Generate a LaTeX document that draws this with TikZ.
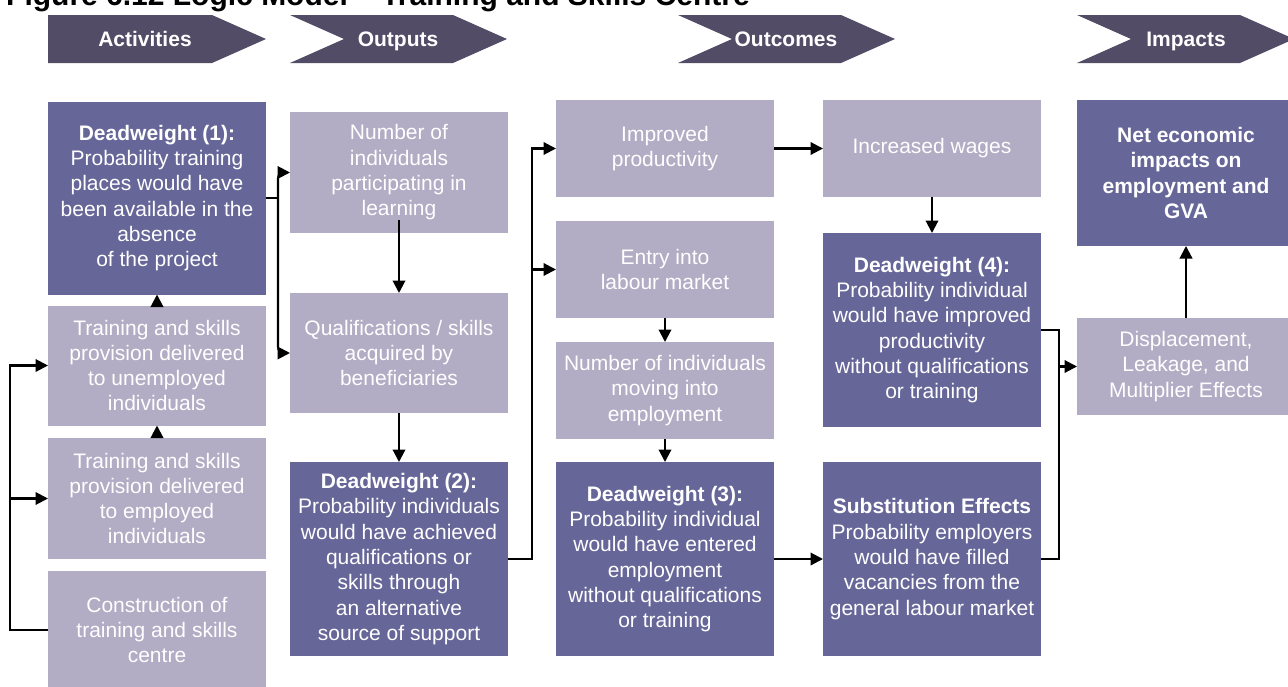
\documentclass[tikz,border=0pt]{standalone}
\usepackage{fontspec}
\setmainfont{Liberation Sans}
\usepackage{tikz}
\usetikzlibrary{arrows.meta}
\definecolor{darkbox}{HTML}{666699}
\definecolor{lightbox}{HTML}{B2ACC4}
\definecolor{header}{HTML}{524C66}

\begin{document}
\begin{tikzpicture}[x=1pt,y=-1pt,
	box/.style={rectangle,inner sep=0pt,outer sep=0pt,minimum width=218pt,align=center,text=white,font=\fontsize{21}{25.3}\selectfont},
	dark/.style={box,fill=darkbox},
	light/.style={box,fill=lightbox},
	hdrtext/.style={anchor=base,text=white,font=\bfseries\fontsize{21}{25}\selectfont},
	conn/.style={line width=2.1pt},
	arr/.style={conn,-{Triangle[length=12.5pt,width=12.5pt]}}]
				\useasboundingbox (0,0) rectangle (1288,686);
				\clip (0,0) rectangle (1288,686);

				%Title
				\node[anchor=base west,inner sep=0pt,font=\bfseries\fontsize{30}{31}\selectfont] (title) at (6,5) {Figure 6.12 Logic Model – Training and Skills Centre};

				%Headers
				\fill[header] (48,15) -- (212,15) -- (266,39) -- (212,63) -- (48,63) -- cycle;
				\fill[header] (290,15) -- (453,15) -- (507,39) -- (453,63) -- (290,63) -- (344,39) -- cycle;
				\fill[header] (678,15) -- (841,15) -- (895,39) -- (841,63) -- (678,63) -- (732,39) -- cycle;
				\fill[header] (1077,15) -- (1240,15) -- (1294,39) -- (1240,63) -- (1077,63) -- (1131,39) -- cycle;
				\node[hdrtext] (act) at (145,46.5) {Activities};
				\node[hdrtext] (out) at (398,46.5) {Outputs};
				\node[hdrtext] (oc)  at (786,46.5) {Outcomes};
				\node[hdrtext] (imp) at (1186,46.5) {Impacts};

				%Nodes
				\node[dark,minimum height=193pt]  (dw1)   at (157,198) {\textbf{Deadweight (1):}\\Probability training\\places would have\\been available in the\\absence\\of the project};
				\node[light,minimum height=120pt] (unemp) at (157,365.5) {Training and skills\\provision delivered\\to unemployed\\individuals};
				\node[light,minimum height=121pt] (emp)   at (157,498.5) {Training and skills\\provision delivered\\to employed\\individuals};
				\node[light,minimum height=118pt] (cons)  at (157,630) {Construction of\\training and skills\\centre};

				\node[light,minimum height=121pt] (num)   at (399,172.5) {Number of\\individuals\\participating in\\learning};
				\node[light,minimum height=120pt] (qual)  at (399,353) {Qualifications / skills\\acquired by\\beneficiaries};
				\node[dark,minimum height=194pt]  (dw2)   at (399,559) {\textbf{Deadweight (2):}\\Probability individuals\\would have achieved\\qualifications or\\skills through\\an alternative\\source of support};

				\node[light,minimum height=97pt]  (impr)  at (665,148.5) {Improved\\productivity};
				\node[light,minimum height=97pt]  (entry) at (665,269.5) {Entry into\\labour market};
				\node[light,minimum height=97pt]  (move)  at (665,390.5) {Number of individuals\\moving into\\employment};
				\node[dark,minimum height=194pt]  (dw3)   at (665,559) {\textbf{Deadweight (3):}\\Probability individual\\would have entered\\employment\\without qualifications\\or training};

				\node[light,minimum height=97pt]  (wage)  at (932,148.5) {Increased wages};
				\node[dark,minimum height=194pt]  (dw4)   at (932,330) {\textbf{Deadweight (4):}\\Probability individual\\would have improved\\productivity\\without qualifications\\or training};
				\node[dark,minimum height=194pt]  (sub)   at (932,559) {\textbf{Substitution Effects}\\Probability employers\\would have filled\\vacancies from the\\general labour market};

				\node[dark,minimum height=146pt,font=\bfseries\fontsize{21}{25.3}\selectfont] (net) at (1186,173) {Net economic\\impacts on\\employment and\\GVA};
				\node[light,minimum height=97pt]  (disp)  at (1186,366.5) {Displacement,\\Leakage, and\\Multiplier Effects};

				\coordinate (lft)  at (10,0);
				\coordinate (brk)  at (278,198);
				\coordinate (bus1) at (532,0);
				\coordinate (bus2) at (1059,0);

				%Lines
				\draw[arr] (cons.west) -- (cons.west -| lft) |- (unemp.west);
				\draw[arr] (lft |- emp.west) -- (emp.west);
				\draw[arr] (emp.north) -- (unemp.south);
				\draw[arr] (unemp.north) -- (dw1.south);

				\draw[conn] (dw1.east) -- (brk);
				\draw[arr,rounded corners=6pt] (brk) |- (num.west);
				\draw[arr,rounded corners=6pt] (brk) |- (qual.west);
				\draw[arr] ([yshift=13pt]num.south) -- (qual.north);
				\draw[arr] (qual.south) -- (dw2.north);

				\draw[arr] (dw2.east) -- (dw2.east -| bus1) |- (impr.west);
				\draw[arr] (bus1 |- entry.west) -- (entry.west);
				\draw[arr] (entry.south) -- (move.north);
				\draw[arr] (move.south) -- (dw3.north);

				\draw[arr] (impr.east) -- (wage.west);
				\draw[arr] (wage.south) -- (dw4.north);
				\draw[arr] (dw3.east) -- (sub.west);

				\draw[conn] (dw4.east) -- (dw4.east -| bus2) -- (bus2 |- sub.east) -- (sub.east);
				\draw[arr] (bus2 |- disp.west) -- (disp.west);
				\draw[arr] (disp.north) -- (net.south);
\end{tikzpicture}
\end{document}
